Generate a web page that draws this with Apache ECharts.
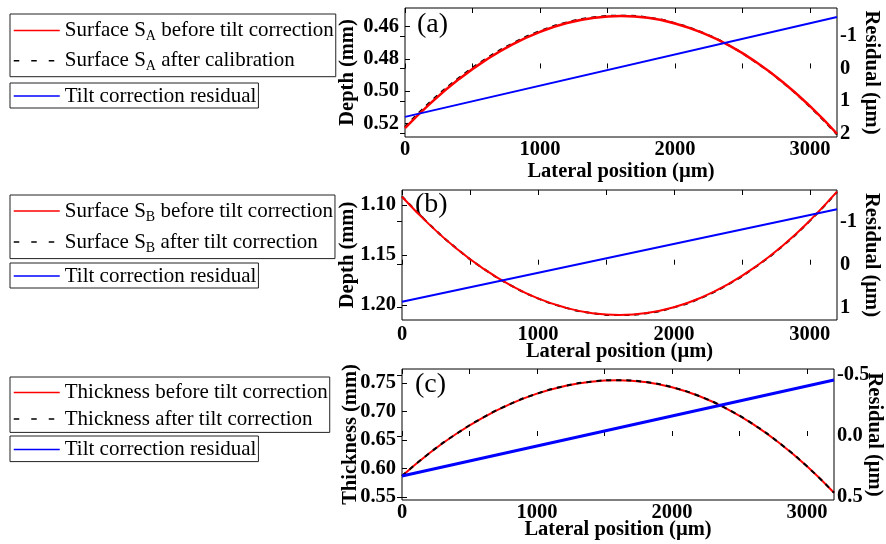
<!DOCTYPE html>
<html>
<head>
<meta charset="utf-8">
<script src="https://cdn.jsdelivr.net/npm/echarts@6/dist/echarts.min.js"></script>
<style>
  html, body { margin: 0; padding: 0; background: #fff; }
  #chart { width: 886px; height: 544px; }
</style>
</head>
<body>
<div id="chart"></div>
<script>
// positions latérales (µm)
var lateralPos = [0, 200, 400, 600, 800, 1000, 1200, 1400, 1600, 1800, 2000, 2200, 2400, 2600, 2800, 3000, 3200];
var residualPos = [0, 3200];

// (a) surface SA
var surfA_before = [0.5230, 0.5067, 0.4926, 0.4807, 0.4709, 0.4633, 0.4578, 0.4546, 0.4535, 0.4546, 0.4581, 0.4638, 0.4717, 0.4820, 0.4945, 0.5094, 0.5265];
var surfA_after  = [0.5222, 0.5058, 0.4918, 0.4800, 0.4703, 0.4628, 0.4574, 0.4543, 0.4533, 0.4544, 0.4579, 0.4637, 0.4717, 0.4822, 0.4948, 0.5098, 0.5270];
var residA = [1.49, -1.585];

// (b) surface SB
var surfB_before = [1.0917, 1.1194, 1.1435, 1.1638, 1.1804, 1.1934, 1.2026, 1.2082, 1.2100, 1.2081, 1.2023, 1.1927, 1.1792, 1.1618, 1.1407, 1.1156, 1.0867];
var surfB_after  = [1.0913, 1.1191, 1.1433, 1.1637, 1.1803, 1.1934, 1.2026, 1.2082, 1.2100, 1.2082, 1.2024, 1.1929, 1.1794, 1.1620, 1.1410, 1.1159, 1.0870];
var residB = [0.86, -1.29];

// (c) épaisseur
var thickC_before = [0.5870, 0.6264, 0.6605, 0.6894, 0.7130, 0.7314, 0.7445, 0.7524, 0.7550, 0.7519, 0.7427, 0.7272, 0.7056, 0.6779, 0.6439, 0.6038, 0.5575];
var thickC_after  = [0.5870, 0.6264, 0.6605, 0.6894, 0.7130, 0.7314, 0.7445, 0.7524, 0.7550, 0.7519, 0.7427, 0.7272, 0.7056, 0.6779, 0.6439, 0.6038, 0.5575];
var residC = [0.328, -0.459];

// graduations
var xTicks = [0, 500, 1000, 1500, 2000, 2500, 3000];
var xLabels = [0, 1000, 2000, 3000];
var depthA_ticks = [0.46, 0.48, 0.50, 0.52];
var residA_ticks = [-1, 0, 1, 2];
var depthB_ticks = [1.10, 1.15, 1.20];
var residB_ticks = [-1, 0, 1];
var thickC_ticks = [0.55, 0.60, 0.65, 0.70, 0.75];
var residC_ticks = [-0.5, 0.0, 0.5];

var FONT = 'Liberation Serif';
var RED = '#ff0000', BLUE = '#0000ff', BLACK = '#000000';

function pts(xs, ys) {
    return xs.map(function(x, i) { return [x, ys[i]]; });
}

var labelStyle = { fontFamily: FONT, fontWeight: 'bold', fontSize: 20.5, color: '#000' };

function makeXAxes(gridIndex, nameGap, margin) {
    return [{
        type: 'value', gridIndex: gridIndex, min: 0, max: 3200, position: 'bottom',
        name: 'Lateral position (µm)', nameLocation: 'middle', nameGap: nameGap,
        nameMoveOverlap: false,
        nameTextStyle: labelStyle,
        axisLine: { show: false },
        axisTick: { inside: true, length: 5, customValues: xTicks, lineStyle: { color: '#000' } },
        axisLabel: Object.assign({
            customValues: xLabels, margin: margin,
            formatter: function(v) { return String(v); }
        }, labelStyle),
        splitLine: { show: false }
    }, {
        type: 'value', gridIndex: gridIndex, min: 0, max: 3200, position: 'top',
        axisLine: { show: false },
        axisTick: { inside: true, length: 5, customValues: xTicks, lineStyle: { color: '#000' } },
        axisLabel: { show: false },
        splitLine: { show: false }
    }];
}

function makeYAxis(gridIndex, pos, name, min, max, inverse, ticks, digits, nameGap) {
    return {
        type: 'value', gridIndex: gridIndex, position: pos, min: min, max: max, inverse: inverse,
        name: name, nameLocation: 'middle', nameGap: nameGap,
        nameMoveOverlap: false,
        nameRotate: pos === 'left' ? 90 : -90,
        nameTextStyle: labelStyle,
        axisLine: { show: false },
        axisTick: { inside: true, length: 5, customValues: ticks, lineStyle: { color: '#000' } },
        axisLabel: Object.assign({
            customValues: ticks, margin: pos === 'left' ? 6 : 3,
            formatter: function(v) { return digits === 0 ? String(Math.round(v)) : v.toFixed(digits); }
        }, labelStyle),
        splitLine: { show: false }
    };
}

var legendText = {
    'SA before': '{n|Surface S}{s|A}{n| before tilt correction}',
    'SA after': '{n|Surface S}{s|A}{n| after calibration}',
    'Residual A': '{n|Tilt correction residual}',
    'SB before': '{n|Surface S}{s|B}{n| before tilt correction}',
    'SB after': '{n|Surface S}{s|B}{n| after tilt correction}',
    'Residual B': '{n|Tilt correction residual}',
    'Thick before': '{n|Thickness before tilt correction}',
    'Thick after': '{n|Thickness after tilt correction}',
    'Residual C': '{n|Tilt correction residual}'
};

// légende encadrée, une par bloc
function makeLegend(top, names, rowH, gap, padTop, padBottom) {
    return {
        left: 10, top: top, orient: 'vertical',
        data: names.map(function(n, i) {
            // la deuxième entrée des blocs à deux lignes est en tirets
            return (names.length === 2 && i === 1) ? { name: n, lineStyle: { type: [5.5, 12] } } : { name: n };
        }),
        itemWidth: 46, itemHeight: rowH, itemGap: gap,
        padding: [padTop, 2, padBottom, 3],
        borderColor: '#222', borderWidth: 1,
        selectedMode: false,
        lineStyle: { width: 1.5 },
        itemStyle: { color: 'transparent', borderWidth: 0, opacity: 0 },
        formatter: function(n) { return legendText[n]; },
        textStyle: {
            fontFamily: FONT, fontSize: 21, color: '#000',
            rich: {
                n: { fontFamily: FONT, fontSize: 21, lineHeight: rowH, color: '#000' },
                s: { fontFamily: FONT, fontSize: 14, lineHeight: 16, verticalAlign: 'bottom', color: '#000' }
            }
        }
    };
}

function curve(name, xi, yi, data, color, width, dashed, z) {
    return {
        name: name, type: 'line', xAxisIndex: xi, yAxisIndex: yi, data: data,
        smooth: true, symbol: 'none', z: z, silent: true,
        lineStyle: { color: color, width: width, type: dashed ? [5, 5] : 'solid' },
        itemStyle: { color: color }
    };
}

var chart = echarts.init(document.getElementById('chart'), null, { renderer: 'canvas' });

var option = {
    animation: false,
    backgroundColor: '#fff',
    grid: [
        { left: 405, top: 8, width: 432, height: 129, show: true, borderColor: '#000', borderWidth: 1, backgroundColor: 'transparent' },
        { left: 402, top: 190, width: 435, height: 130, show: true, borderColor: '#000', borderWidth: 1, backgroundColor: 'transparent' },
        { left: 402, top: 369, width: 435, height: 131, show: true, borderColor: '#000', borderWidth: 1, backgroundColor: 'transparent' }
    ],
    xAxis: [].concat(makeXAxes(0, 24, 2), makeXAxes(1, 21, 4), makeXAxes(2, 19, 2)),
    yAxis: [
        makeYAxis(0, 'left', 'Depth (mm)', 0.4485, 0.5285, true, depthA_ticks, 2, 47),
        makeYAxis(0, 'right', 'Residual (µm)', -1.86, 2.11, true, residA_ticks, 0, 24),
        makeYAxis(1, 'left', 'Depth (mm)', 1.085, 1.215, true, depthB_ticks, 2, 44),
        makeYAxis(1, 'right', 'Residual (µm)', -1.737, 1.286, true, residB_ticks, 0, 24),
        makeYAxis(2, 'left', 'Thickness (mm)', 0.5447, 0.7746, false, thickC_ticks, 2, 41),
        makeYAxis(2, 'right', 'Residual (µm)', -0.549, 0.5246, true, residC_ticks, 1, 30)
    ],
    legend: [
        makeLegend(14, ['SA before', 'SA after'], 26, 6.7, 6, 3),
        makeLegend(83, ['Residual A'], 26, 4, 2.5, 1.5),
        makeLegend(195, ['SB before', 'SB after'], 26, 7.4, 5.6, 3.6),
        makeLegend(263, ['Residual B'], 26, 4, 2.5, 1.5),
        makeLegend(377, ['Thick before', 'Thick after'], 22, 5.6, 4.9, 2.9),
        makeLegend(436, ['Residual C'], 22, 4, 3, 1.6)
    ],
    graphic: [
        { type: 'text', x: 417, y: 25, style: { text: '(a)', font: '28px ' + FONT, fill: '#000', verticalAlign: 'middle' } },
        { type: 'text', x: 415, y: 205, style: { text: '(b)', font: '28px ' + FONT, fill: '#000', verticalAlign: 'middle' } },
        { type: 'text', x: 415, y: 385, style: { text: '(c)', font: '28px ' + FONT, fill: '#000', verticalAlign: 'middle' } }
    ],
    series: [
        curve('SA after', 0, 0, pts(lateralPos, surfA_after), BLACK, 2, true, 2),
        curve('SA before', 0, 0, pts(lateralPos, surfA_before), RED, 2.5, false, 3),
        curve('Residual A', 0, 1, pts(residualPos, residA), BLUE, 2, false, 4),

        curve('SB after', 2, 2, pts(lateralPos, surfB_after), BLACK, 2, true, 2),
        curve('SB before', 2, 2, pts(lateralPos, surfB_before), RED, 2, false, 3),
        curve('Residual B', 2, 3, pts(residualPos, residB), BLUE, 2, false, 4),

        curve('Thick before', 4, 4, pts(lateralPos, thickC_before), RED, 2, false, 2),
        curve('Thick after', 4, 4, pts(lateralPos, thickC_after), BLACK, 2, true, 3),
        curve('Residual C', 4, 5, pts(residualPos, residC), BLUE, 3, false, 4)
    ]
};

chart.setOption(option);
</script>
</body>
</html>
